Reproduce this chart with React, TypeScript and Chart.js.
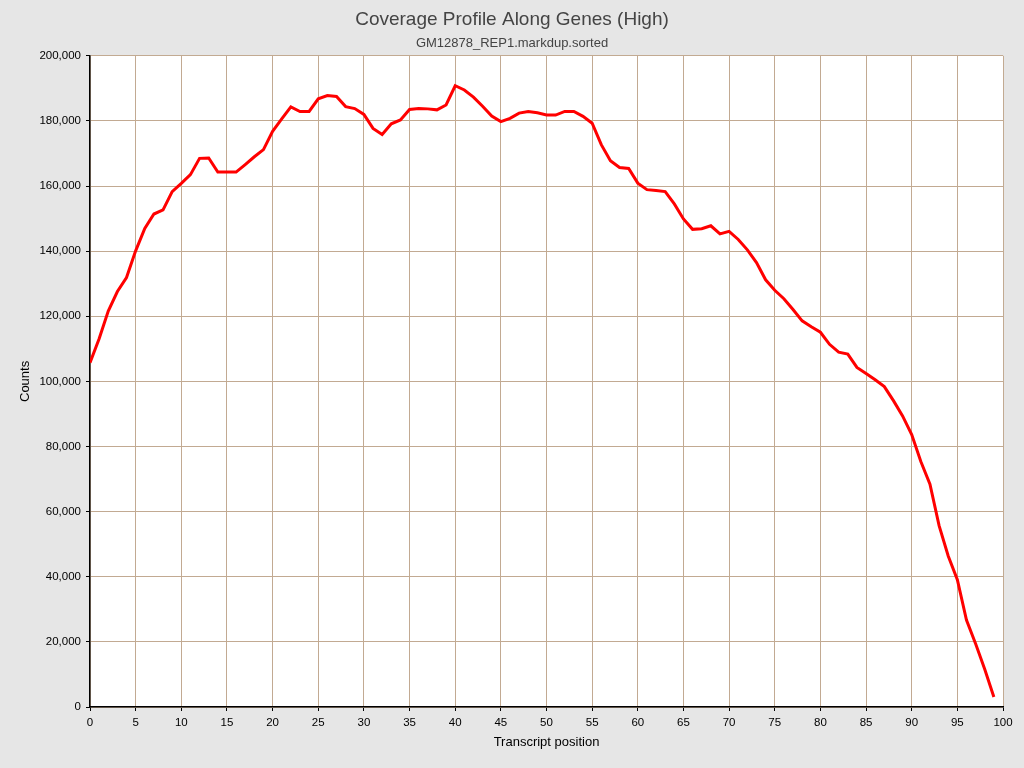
import { Chart, registerables } from 'chart.js'
import { useEffect, useRef } from 'react'

Chart.register(...registerables)

// transcript position 0..99
const POSITIONS = Array.from({ length: 100 }, (_, i) => i)

// coverage counts (thousands)
const COUNTS_K = [
  105.7, 113.1, 121.6, 127.6, 131.9, 140.1, 147.0, 151.4, 152.7, 158.3,
  160.8, 163.5, 168.5, 168.6, 164.3, 164.3, 164.3, 166.6, 169.0, 171.2,
  176.8, 180.6, 184.3, 182.9, 182.9, 186.8, 187.8, 187.5, 184.4, 183.8,
  182.0, 177.7, 175.8, 179.1, 180.3, 183.5, 183.8, 183.7, 183.4, 184.9,
  190.8, 189.5, 187.3, 184.5, 181.5, 179.8, 180.8, 182.4, 182.9, 182.5,
  181.8, 181.8, 182.9, 182.9, 181.4, 179.3, 172.7, 167.8, 165.7, 165.4,
  160.9, 158.9, 158.6, 158.3, 154.5, 149.9, 146.7, 146.9, 147.8, 145.3,
  146.1, 143.6, 140.4, 136.5, 131.2, 128.0, 125.4, 122.1, 118.6, 116.8,
  115.1, 111.4, 109.0, 108.4, 104.3, 102.4, 100.5, 98.4, 94.1, 89.4,
  83.7, 75.4, 68.4, 55.7, 46.4, 39.1, 26.7, 19.4, 11.6, 3.1,
]

const TITLE = 'Coverage Profile Along Genes (High)'
const SUBTITLE = 'GM12878_REP1.markdup.sorted'
const X_TITLE = 'Transcript position'
const Y_TITLE = 'Counts'

const FONT = '"Liberation Sans", Arial, Helvetica, sans-serif'
const GRID = '#c2aa92'

export default function App() {
  const canvasRef = useRef<HTMLCanvasElement>(null)

  useEffect(() => {
    const canvas = canvasRef.current
    if (!canvas) return

    const chart = new Chart(canvas, {
      type: 'line',
      data: {
        datasets: [
          {
            data: POSITIONS.map((x, i) => ({ x, y: COUNTS_K[i] * 1000 })),
            borderColor: '#ff0000',
            borderWidth: 3,
            pointRadius: 0,
            tension: 0,
            fill: false,
          },
        ],
      },
      options: {
        animation: false,
        responsive: false,
        events: [],
        layout: { padding: 0 },
        plugins: {
          legend: { display: false },
          tooltip: { enabled: false },
          title: {
            display: true,
            text: TITLE,
            color: '#444',
            font: { family: FONT, size: 19, weight: 'normal' },
            padding: { top: 8.6, bottom: 3 },
          },
          subtitle: {
            display: true,
            text: SUBTITLE,
            color: '#444',
            font: { family: FONT, size: 13, weight: 'normal' },
            padding: { top: 1.6, bottom: 4.2 },
          },
        },
        scales: {
          x: {
            type: 'linear',
            min: 0,
            max: 100,
            afterFit: (s) => {
              s.height = 61
            },
            ticks: {
              stepSize: 5,
              color: '#000',
              padding: 5,
              maxRotation: 0,
              font: { family: FONT, size: 11.5 },
            },
            grid: { color: GRID, tickColor: '#000', tickLength: 4, lineWidth: 1 },
            border: { color: '#000', width: 1.5 },
            title: {
              display: true,
              text: X_TITLE,
              color: '#000',
              font: { family: FONT, size: 13 },
              padding: { top: 0, bottom: 18 },
            },
          },
          y: {
            min: 0,
            max: 200000,
            afterFit: (s) => {
              s.width = 90
            },
            ticks: {
              stepSize: 20000,
              color: '#000',
              padding: 5,
              font: { family: FONT, size: 11.5 },
              callback: (v) => Number(v).toLocaleString('en-US'),
            },
            grid: { color: GRID, tickColor: '#000', tickLength: 4, lineWidth: 1 },
            border: { color: '#000', width: 1.5 },
            title: {
              display: true,
              text: Y_TITLE,
              color: '#000',
              font: { family: FONT, size: 13 },
              padding: { top: 18, bottom: 0 },
            },
          },
          // empty right-hand strip so the plot ends at x≈1003 while titles stay centred
          yRight: {
            position: 'right',
            min: 0,
            max: 1,
            afterFit: (s) => {
              s.width = 21
            },
            ticks: { display: false },
            grid: { display: false },
            border: { display: false },
          },
        },
      },
      plugins: [
        {
          id: 'plotBg',
          beforeDraw: (c) => {
            const { ctx, chartArea } = c
            ctx.save()
            ctx.fillStyle = '#ffffff'
            ctx.fillRect(chartArea.left, chartArea.top, chartArea.width, chartArea.height)
            ctx.restore()
          },
        },
      ],
    })

    return () => chart.destroy()
  }, [])

  return (
    <div
      style={{
        position: 'fixed',
        left: 0,
        top: 0,
        width: 1024,
        height: 768,
        background: '#e6e6e6',
      }}
    >
      <canvas ref={canvasRef} width={1024} height={768} />
    </div>
  )
}
